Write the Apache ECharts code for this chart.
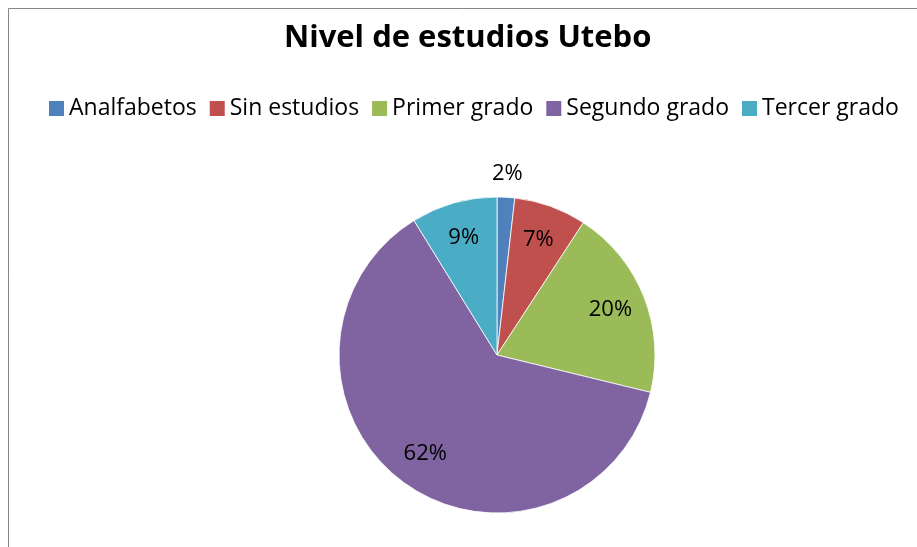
<!DOCTYPE html>
<html>
<head>
<meta charset="utf-8">
<title>Nivel de estudios Utebo</title>
<script src="https://cdn.jsdelivr.net/npm/echarts@6/dist/echarts.min.js"></script>
<style>
    html, body { margin: 0; padding: 0; background: #fff; }
    #chart { width: 917px; height: 547px; }
</style>
</head>
<body>
<div id="chart"></div>
<script>
// datos (porcentaje de cada nivel)
var categories = ['Analfabetos', 'Sin estudios', 'Primer grado', 'Segundo grado', 'Tercer grado'];
var values = [1.8, 7.4, 19.6, 62.4, 8.8];
var colorList = ['#4f81bd', '#c0504d', '#9bbb59', '#8064a2', '#4bacc6'];

(function () {
    var myChart = echarts.init(document.getElementById('chart'));
    var font = '"Open Sans", sans-serif';
    var center = [497, 355];
    var r = 158;

    var pieData = categories.map(function (name, i) {
        return { name: name, value: values[i] };
    });
    //etiquetas dentro de los sectores, menos la pequeña
    var innerLabels = pieData.map(function (d, i) {
        return { name: d.name, value: d.value, label: { show: i !== 0 } };
    });
    //la etiqueta del 2% va por fuera
    var outerLabels = pieData.map(function (d, i) {
        return { name: d.name, value: d.value, label: { show: i === 0 } };
    });
    var pctLabel = {
        position: 'inside',
        color: '#000',
        fontFamily: font,
        fontSize: 22,
        formatter: function (p) { return Math.round(p.percent) + '%'; }
    };

    var option = {
        backgroundColor: '#fff',
        color: colorList,
        animation: false,
        title: {
            text: 'Nivel de estudios Utebo',
            left: 284,
            top: 23,
            padding: 0,
            textStyle: {
                fontFamily: font,
                fontWeight: 'bold',
                fontSize: 31,
                color: '#000'
            }
        },
        legend: {
            data: categories,
            left: 49,
            top: 97,
            padding: 0,
            icon: 'rect',
            itemWidth: 15,
            itemHeight: 15,
            itemGap: 13,
            itemStyle: { borderWidth: 0 },
            textStyle: {
                fontFamily: font,
                fontSize: 23,
                color: '#000'
            }
        },
        //marco del area del grafico
        graphic: [{
            type: 'rect',
            silent: true,
            shape: { x: 8.5, y: 8.5, width: 1000, height: 1000 },
            style: { fill: 'none', stroke: '#878787', lineWidth: 1 }
        }],
        series: [
            {
                name: 'Nivel de estudios',
                type: 'pie',
                center: center,
                radius: [0, r],
                startAngle: 90,
                clockwise: true,
                silent: true,
                label: { show: false },
                labelLine: { show: false },
                itemStyle: { borderColor: '#fff', borderWidth: 0.8 },
                data: pieData
            },
            {
                type: 'pie',
                center: center,
                radius: [80, r],
                startAngle: 90,
                silent: true,
                itemStyle: { color: 'rgba(0,0,0,0)' },
                label: pctLabel,
                labelLine: { show: false },
                data: innerLabels
            },
            {
                type: 'pie',
                center: center,
                radius: [r + 8, r + 34],
                startAngle: 90,
                silent: true,
                itemStyle: { color: 'rgba(0,0,0,0)' },
                label: pctLabel,
                labelLine: { show: false },
                data: outerLabels
            }
        ]
    };
    myChart.setOption(option);
})();
</script>
</body>
</html>
